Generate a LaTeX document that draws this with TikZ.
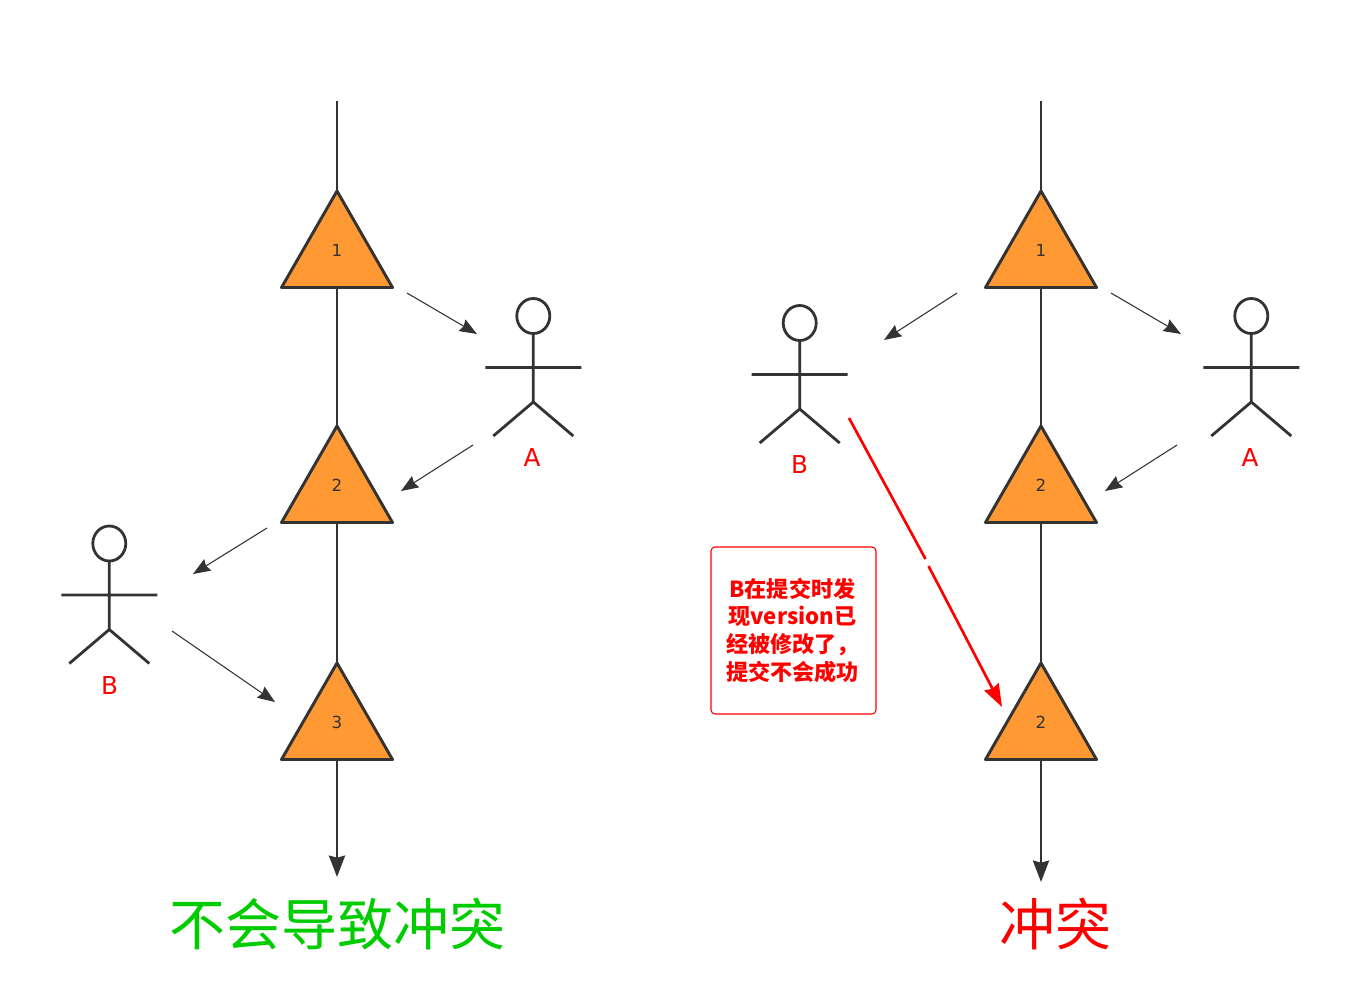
\documentclass[tikz,border=0pt]{standalone}
\usepackage{fontspec}
\setmainfont{DejaVu Sans}
\newfontfamily\cjk{Noto Sans CJK SC}
\usetikzlibrary{arrows.meta}
\definecolor{inkdark}{HTML}{333333}
\definecolor{tri}{HTML}{FF9933}
\definecolor{okgreen}{HTML}{00CC00}
\tikzset{
  x=0.75pt,y=-0.75pt,
  axisline/.style={draw=inkdark,line width=2pt},
  axisarrow/.style={axisline,-{Stealth[length=16pt,width=12pt,inset=1.5pt]}},
  triline/.style={draw=inkdark,fill=tri,line width=2.2pt,line join=round},
  trilabel/.style={font=\fontsize{12.5}{14}\selectfont,text=inkdark,inner sep=0pt},
  actorline/.style={draw=inkdark,line width=2.1pt},
  actorlabel/.style={font=\fontsize{18.5}{21}\selectfont,text=red,inner sep=0pt},
  thinarrow/.style={draw=inkdark,line width=0.8pt,-{Stealth[length=13pt,width=10pt,inset=1.5pt]}},
  redline/.style={draw=red,line width=2pt},
  redarrow/.style={redline,-{Stealth[length=17pt,width=12pt,inset=1.5pt]}},
  notebox/.style={draw=red,line width=0.8pt,rounded corners=3pt,fill=white},
  notetext/.style={font=\cjk\bfseries\fontsize{16.6}{20.9}\selectfont,text=red,align=center,inner sep=0pt},
  bigtitle/.style={font=\cjk\fontsize{42}{48}\selectfont,inner sep=0pt},
}
% \tricone{name}{cx}{apexY}{label}
\newcommand{\tricone}[4]{
  \coordinate (#1-t) at (#2,#3);
  \coordinate (#1-b) at (#2,#3+96.5);
  \draw[triline] (#2,#3) -- (#2+55.5,#3+96.5) -- (#2-55.5,#3+96.5) -- cycle;
  \node[trilabel] (#1) at (#2,#3+59.5) {#4};
}
% \stickman{name}{headX}{headY}{label}{labelX}{labelY}
\newcommand{\stickman}[6]{
  \draw[actorline] (#2,#3) ellipse [x radius=16.5,y radius=17.5];
  \draw[actorline] (#2,#3+17.5) -- (#2,#3+86) (#2-48,#3+51.5) -- (#2+48,#3+51.5)
    (#2-40,#3+120) -- (#2,#3+86) -- (#2+40,#3+120);
  \node[actorlabel] (#1) at (#5,#6) {#4};
}
\begin{document}
\begin{tikzpicture}
\useasboundingbox (0,0) rectangle (1360,1000);
% left
\coordinate (ltop) at (337,101);
\coordinate (lend) at (337,877);
\tricone{l1}{337}{191}{1}
\tricone{l2}{337}{426}{2}
\tricone{l3}{337}{663}{3}
\draw[axisline] (ltop) -- (l1-t);
\draw[axisline] (l1-b) -- (l2-t);
\draw[axisline] (l2-b) -- (l3-t);
\draw[axisarrow] (l3-b) -- (lend);
\stickman{la}{533.3}{316}{A}{532}{458}
\stickman{lb}{109.3}{543.5}{B}{109.5}{685.5}
\coordinate (a1s) at (407,293); \coordinate (a1e) at (477,334);
\coordinate (a2s) at (473,445); \coordinate (a2e) at (401,491);
\coordinate (a3s) at (267,528); \coordinate (a3e) at (193,574);
\coordinate (a4s) at (172,631); \coordinate (a4e) at (275,702);
\draw[thinarrow] (a1s) -- (a1e);
\draw[thinarrow] (a2s) -- (a2e);
\draw[thinarrow] (a3s) -- (a3e);
\draw[thinarrow] (a4s) -- (a4e);
\node[bigtitle,text=okgreen] (ltitle) at (337.5,924) {不会导致冲突};
% right
\coordinate (rtop) at (1041,101);
\coordinate (rend) at (1041,882);
\tricone{r1}{1041}{191}{1}
\tricone{r2}{1041}{426}{2}
\tricone{r3}{1041}{663}{2}
\draw[axisline] (rtop) -- (r1-t);
\draw[axisline] (r1-b) -- (r2-t);
\draw[axisline] (r2-b) -- (r3-t);
\draw[axisarrow] (r3-b) -- (rend);
\stickman{ra}{1251.3}{316}{A}{1250}{458}
\stickman{rb}{799.7}{323}{B}{799.5}{465}
\coordinate (b1s) at (1111,293); \coordinate (b1e) at (1181,334);
\coordinate (b2s) at (957,293); \coordinate (b2e) at (884,340);
\coordinate (b3s) at (1177,445); \coordinate (b3e) at (1105,491);
\draw[thinarrow] (b1s) -- (b1e);
\draw[thinarrow] (b2s) -- (b2e);
\draw[thinarrow] (b3s) -- (b3e);
\coordinate (c1) at (849,418); \coordinate (c2) at (925.5,559);
\coordinate (c3) at (928.5,566); \coordinate (c4) at (1002,707);
\draw[redline] (c1) -- (c2);
\draw[redarrow] (c3) -- (c4);
\draw[notebox] (711,547) rectangle (876,714);
\node[notetext] (note) at (792.5,630.5) {B在提交时发\\现version已\\经被修改了，\\提交不会成功};
\node[bigtitle,text=red] (rtitle) at (1055.5,924) {冲突};
\end{tikzpicture}
\end{document}
